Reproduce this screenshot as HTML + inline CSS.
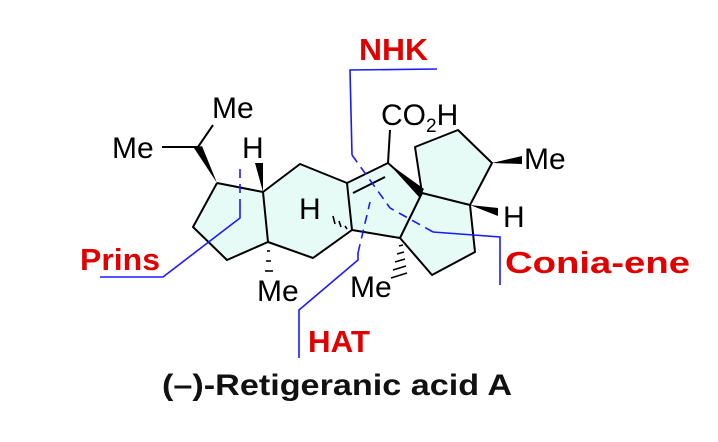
<!DOCTYPE html>
<html><head><meta charset="utf-8"><style>
html,body{margin:0;padding:0;background:#fff}
svg{display:block}
</style></head><body>
<svg width="718" height="442" viewBox="0 0 718 442" xmlns="http://www.w3.org/2000/svg">
<path d="M217,183 L263,192 L300,164 L347,183 L388,163 L422,193 L415,147 L458,130 L492,163 L470,205 L475,252 L432,275 L400,238 L352,230 L313,258 L268,242 L227,260 L193,227 Z" fill="#e6fbf6" stroke="none"/>
<g stroke="#000" stroke-width="2" fill="none" stroke-linejoin="round">
<polyline points="217,183 263,192 268,242 227,260 193,227 217,183"/>
<polyline points="263,192 300,164 347,183 352,230 313,258 268,242"/>
<polyline points="347,183 388,163 422,193 400,238 352,230"/>
<line x1="353" y1="193" x2="385" y2="177"/>
<polyline points="422,193 415,147 458,130 492,163 470,205 422,193"/>
<polyline points="400,238 432,275 475,252 470,205"/>
<line x1="388" y1="163" x2="390" y2="130"/>
<line x1="162" y1="147" x2="198" y2="147"/>
<line x1="198" y1="147" x2="213" y2="125"/>
</g>
<g fill="#000">
<polygon points="217,183 194,148 202,146"/>
<polygon points="263,192 255,163 263,163"/>
<polygon points="388,163 424,189 419,197"/>
<polygon points="492,163 522,156 522,164"/>
<polygon points="470,205 498,208 498,216"/>
</g>
<g stroke="#000" stroke-width="1.6">
<line x1="267" y1="251" x2="270" y2="251"/>
<line x1="266" y1="261" x2="271" y2="261"/>
<line x1="265" y1="271" x2="273" y2="271"/>
<line x1="399" y1="246" x2="403" y2="245"/>
<line x1="397" y1="254" x2="404" y2="252"/>
<line x1="395" y1="262" x2="405" y2="259"/>
<line x1="393" y1="270" x2="406" y2="266"/>
<line x1="391" y1="278" x2="407" y2="273"/>
<line x1="345" y1="226" x2="347" y2="229"/>
<line x1="339" y1="221" x2="341" y2="227"/>
<line x1="333" y1="216" x2="335" y2="224"/>
</g>
<g font-family="Liberation Sans, sans-serif" font-size="30" fill="#000">
<text x="212" y="118">Me</text>
<text x="112" y="158">Me</text>
<text x="242" y="158">H</text>
<text x="299" y="219">H</text>
<text x="257" y="301">Me</text>
<text x="350" y="297">Me</text>
<text x="381" y="125">CO<tspan font-size="19" dy="7">2</tspan><tspan dy="-7">H</tspan></text>
<text x="524" y="169">Me</text>
<text x="503" y="227">H</text>
</g>
<g stroke="#1a1aff" stroke-width="1.6" fill="none">
<polyline points="437,69 350,70 352,155"/>
<line x1="352" y1="155" x2="390" y2="208" stroke-dasharray="9,6"/>
<polyline points="100,277 163,277 240,218 240,208"/>
<line x1="240" y1="208" x2="240" y2="167" stroke-dasharray="9,6"/>
<polyline points="299,358 299,310 358,260 358,253"/>
<line x1="358" y1="253" x2="370" y2="202" stroke-dasharray="9,6"/>
<polyline points="500,285 500,237 433,232"/>
<line x1="433" y1="232" x2="390" y2="208" stroke-dasharray="9,6"/>
</g>
<g font-family="Liberation Sans, sans-serif" font-weight="bold" font-size="31" fill="#e00000">
<text x="359" y="60" textLength="69" lengthAdjust="spacingAndGlyphs">NHK</text>
<text x="80" y="270" textLength="80" lengthAdjust="spacingAndGlyphs">Prins</text>
<text x="505" y="273" textLength="185" lengthAdjust="spacingAndGlyphs">Conia-ene</text>
<text x="308" y="352" textLength="62" lengthAdjust="spacingAndGlyphs">HAT</text>
</g>
<text x="162" y="395" font-family="Liberation Sans, sans-serif" font-weight="bold" font-size="30" fill="#111" textLength="350" lengthAdjust="spacingAndGlyphs">(–)-Retigeranic acid A</text>
</svg>
</body></html>
